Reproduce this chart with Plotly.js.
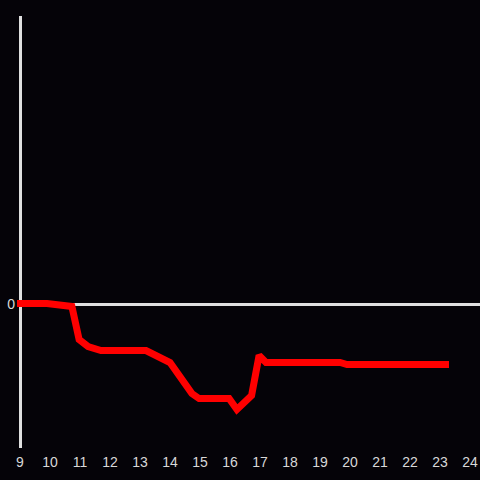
<!DOCTYPE html>
<html>
<head>
<meta charset="utf-8">
<script src="https://cdn.plot.ly/plotly-3.0.1.min.js"></script>
<style>html,body{margin:0;padding:0;background:#050308;}#chart{width:480px;height:480px;}</style>
</head>
<body>
<div id="chart"></div>
<script>
const xValues = [8.9, 9.9, 10.73, 10.97, 11.27, 11.7, 13.2, 14.0, 14.33, 14.73, 14.97, 15.97, 16.23, 16.72, 16.97, 17.2, 19.67, 19.9, 23.3];
const yValues = [0.1, 0.1, -0.2, -3.5, -4.2, -4.6, -4.6, -5.8, -7.2, -8.9, -9.4, -9.4, -10.5, -9.1, -5.1, -5.8, -5.8, -6.0, -6.0];
const xTicks = [9, 10, 11, 12, 13, 14, 15, 16, 17, 18, 19, 20, 21, 22, 23, 24];
const yTicks = [0];

Plotly.newPlot('chart', [{
  x: xValues,
  y: yValues,
  type: 'scatter',
  mode: 'lines',
  line: {color: '#ff0000', width: 7},
  hoverinfo: 'none'
}], {
  width: 480,
  height: 480,
  paper_bgcolor: '#050308',
  plot_bgcolor: '#050308',
  margin: {l: 17, r: 0, t: 16, b: 32},
  showlegend: false,
  font: {family: 'Liberation Sans, Arial, sans-serif', size: 14, color: '#d8d8d8'},
  shapes: [{
    type: 'line', xref: 'x', yref: 'paper',
    x0: 9.017, x1: 9.017, y0: 0, y1: 1,
    line: {color: '#e0e0e0', width: 3},
    layer: 'below'
  }],
  xaxis: {
    range: [8.9, 24.3333],
    tickvals: xTicks,
    ticktext: xTicks.map(String),
    showgrid: false,
    zeroline: false,
    showline: false,
    ticks: '',
    ticklabelstandoff: 4
  },
  yaxis: {
    range: [-14.35, 28.85],
    tickvals: yTicks,
    ticktext: yTicks.map(String),
    showgrid: false,
    zeroline: true,
    zerolinecolor: '#e0e0e0',
    zerolinewidth: 3,
    showline: false,
    ticks: '',
    ticklabelstandoff: 1
  }
}, {staticPlot: true});
</script>
</body>
</html>
